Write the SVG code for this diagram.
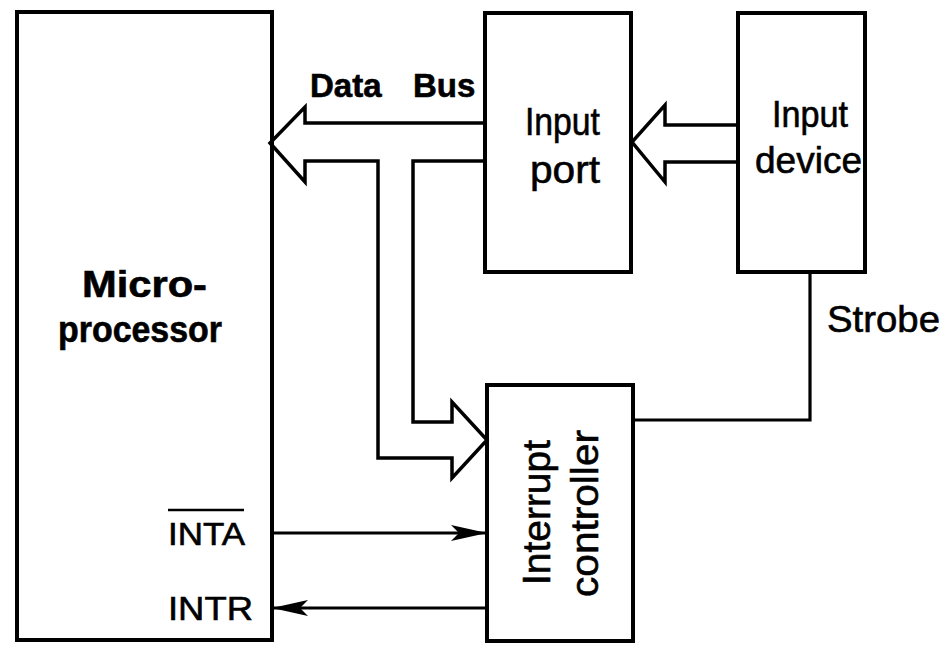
<svg xmlns="http://www.w3.org/2000/svg" width="947" height="646" viewBox="0 0 947 646">
  <style>
    .box { fill: #fff; stroke: #000; stroke-width: 4; }
    .bus { fill: none; stroke: #000; stroke-width: 3.5; stroke-linejoin: miter; }
    .wire { fill: none; stroke: #000; stroke-width: 3.2; }
    .lbl { font-family: "Liberation Sans", Arial, sans-serif; fill: #000; stroke: #000; stroke-width: 0.6; }
    .b { font-weight: bold; }
  </style>
  <defs>
    <marker id="dart" viewBox="0 0 36 22" refX="36" refY="11" markerWidth="36" markerHeight="22" markerUnits="userSpaceOnUse" orient="auto">
      <path d="M0,3 L36,11 L0,19 L8,11 Z" fill="#000"/>
    </marker>
  </defs>
  <rect width="947" height="646" fill="#fff"/>

  <g id="microprocessor">
    <rect class="box" x="17" y="12" width="255" height="628"/>
    <text class="lbl b" x="82" y="297" font-size="36" textLength="125" lengthAdjust="spacingAndGlyphs">Micro-</text>
    <text class="lbl b" x="58" y="342" font-size="36" textLength="164" lengthAdjust="spacingAndGlyphs">processor</text>
    <text class="lbl" x="168" y="545" font-size="32" textLength="77" lengthAdjust="spacingAndGlyphs">INTA</text>
    <line x1="168" y1="510" x2="244" y2="510" stroke="#000" stroke-width="2.5"/>
    <text class="lbl" x="168" y="620" font-size="34" textLength="85" lengthAdjust="spacingAndGlyphs">INTR</text>
  </g>

  <g id="input-port">
    <rect class="box" x="485" y="13" width="146" height="259"/>
    <text class="lbl" x="525" y="135" font-size="38" textLength="75" lengthAdjust="spacingAndGlyphs">Input</text>
    <text class="lbl" x="530" y="183" font-size="38" textLength="70" lengthAdjust="spacingAndGlyphs">port</text>
  </g>

  <g id="input-device">
    <rect class="box" x="738" y="13" width="127" height="259"/>
    <text class="lbl" x="772" y="127" font-size="36" textLength="76" lengthAdjust="spacingAndGlyphs">Input</text>
    <text class="lbl" x="755" y="173" font-size="36" textLength="107" lengthAdjust="spacingAndGlyphs">device</text>
  </g>

  <g id="interrupt-controller">
    <rect class="box" x="487" y="385" width="146" height="256"/>
    <text class="lbl" transform="translate(550,585) rotate(-90)" x="0" y="0" font-size="39" textLength="145" lengthAdjust="spacingAndGlyphs">Interrupt</text>
    <text class="lbl" transform="translate(598,597) rotate(-90)" x="0" y="0" font-size="39" textLength="167" lengthAdjust="spacingAndGlyphs">controller</text>
  </g>

  <g id="connectors">
    <path class="bus" d="M485,123 L305,123 L305,107 L270,143 L305,182 L305,161 L378,161 L378,458 L452,458 L452,478 L487,440 L452,402 L452,422 L413,422 L413,161 L485,161"/>
    <path class="bus" d="M738,125 L665,125 L665,105 L632,142 L665,182 L665,162 L738,162"/>
    <path class="wire" d="M810,272 L810,420 L633,420"/>
    <line class="wire" x1="272" y1="533" x2="487" y2="533" marker-end="url(#dart)"/>
    <line class="wire" x1="487" y1="608" x2="272" y2="608" marker-end="url(#dart)"/>
    <text class="lbl b" x="310" y="97" font-size="33">Data<tspan x="413">Bus</tspan></text>
    <text class="lbl" x="827" y="332" font-size="37" textLength="113" lengthAdjust="spacingAndGlyphs">Strobe</text>
  </g>
</svg>
